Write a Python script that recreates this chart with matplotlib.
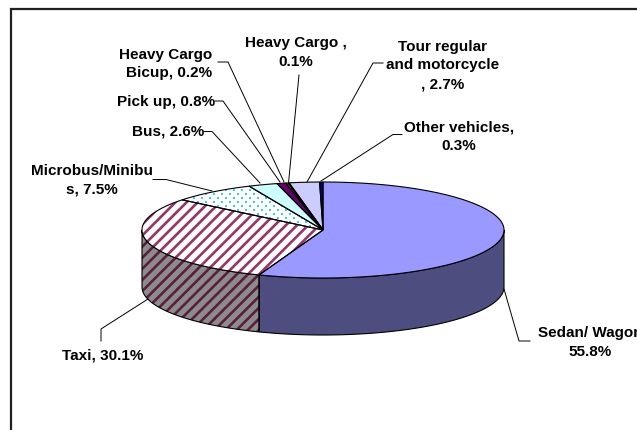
import numpy as np
import matplotlib
matplotlib.use("Agg")
import matplotlib.pyplot as plt
from matplotlib.patches import Polygon

plt.rcParams['font.family'] = ['Liberation Sans', 'DejaVu Sans']
plt.rcParams['hatch.linewidth'] = 1.9

# ---- data ----
categories = ["Sedan/ Wagon", "Taxi", "Microbus/Minibus", "Bus", "Pick up",
              "Heavy Cargo Bicup", "Heavy Cargo", "Tour regular and motorcycle",
              "Other vehicles"]
values = [55.8, 30.1, 7.5, 2.6, 0.8, 0.2, 0.1, 2.7, 0.3]
labels = ["Sedan/ Wagon\n55.8%", "Taxi, 30.1%", "Microbus/Minibu\ns, 7.5%",
          "Bus, 2.6%", "Pick up, 0.8%", "Heavy Cargo\nBicup, 0.2%",
          "Heavy Cargo ,\n0.1%", "Tour regular\nand motorcycle\n, 2.7%",
          "Other vehicles,\n0.3%"]

# ---- styles ----
top_colors = ["#9999FF", "#FFFFFF", "#FFFFFF", "#CCFFFF", "#660066",
              "#FF8080", "#FF8080", "#CCCCFF", "#000080"]
side_colors = ["#4D4D80", "#8C8C8C", "#808080", "#668080", "#330033",
               "#804040", "#804040", "#666680", "#000040"]
top_hatch = [None, "///", None, None, None, None, None, None, None]
top_hatch_col = [None, "#993366", None, None, None, None, None, None, None]
side_hatch_col = [None, "#5A1F3D", None, None, None, None, None, None, None]
dot_fill = [None, None, "#33CCFF", None, None, None, None, None, None]

cx, cy, a, b, depth = 323.0, 231.0, 181.0, 48.0, 57.0

fig = plt.figure(figsize=(6.37, 4.31), dpi=100)
ax = fig.add_axes([0, 0, 1, 1])
ax.set_xlim(0, 637)
ax.set_ylim(431, 0)
ax.axis("off")

def pt(theta_deg, dy=0.0):
    t = np.radians(theta_deg)
    return cx + a * np.sin(t), cy - b * np.cos(t) + dy

def draw_poly(pts, face, hatch, hcol, z, dots=None):
    base = Polygon(pts, closed=True, facecolor=face, edgecolor="none",
                   lw=0, zorder=z)
    ax.add_patch(base)
    if hatch:
        ax.add_patch(Polygon(pts, closed=True, facecolor="none", edgecolor=hcol,
                             hatch=hatch, lw=0, zorder=z + 0.1))
    if dots:
        arr = np.array(pts)
        x0, x1 = arr[:, 0].min(), arr[:, 0].max()
        y0, y1 = arr[:, 1].min(), arr[:, 1].max()
        gx, gy = [], []
        row = 0
        for yy in np.arange(y0 - 8, y1 + 8, 4.0):
            off = 4.0 if row % 2 else 0.0
            for xx in np.arange(x0 - 8 + off, x1 + 8, 8.0):
                gx.append(xx)
                gy.append(yy)
            row += 1
        sc = ax.scatter(gx, gy, s=3.5, color=dots, marker="s", linewidths=0,
                        zorder=z + 0.1)
        sc.set_clip_path(base)
    ax.add_patch(Polygon(pts, closed=True, facecolor="none", edgecolor="black",
                         lw=0.8, zorder=z + 0.2))

total = sum(values)
bounds = np.concatenate([[0], np.cumsum(values) / total * 360.0])

# sides (visible front half: 90..270 deg clockwise from top)
for i in range(len(values)):
    t1, t2 = bounds[i], bounds[i + 1]
    s1, s2 = max(t1, 90.0), min(t2, 270.0)
    if s2 <= s1:
        continue
    th = np.linspace(s1, s2, 80)
    top = [pt(t) for t in th]
    bot = [pt(t, depth) for t in th[::-1]]
    draw_poly(top + bot, side_colors[i], top_hatch[i], side_hatch_col[i], 2)

# tops
for i in range(len(values)):
    t1, t2 = bounds[i], bounds[i + 1]
    th = np.linspace(t1, t2, max(4, int((t2 - t1) * 2)))
    pts = [(cx, cy)] + [pt(t) for t in th]
    draw_poly(pts, top_colors[i], top_hatch[i], top_hatch_col[i], 4,
              dots=dot_fill[i])

# labels: (x, y, ha)
label_pos = [(590, 342.5, "center"), (102.5, 356, "center"), (92, 180, "center"),
             (168.5, 132, "center"), (166, 102, "center"), (212, 64, "right"),
             (296, 52.5, "center"), (443, 65.5, "center"), (459, 136.5, "center")]
leaders = [
    [(530, 342), (519, 342), (504, 290)],
    [(101, 342), (101, 330), (148, 300)],
    [(153, 180.5), (166, 180.5), (212, 192)],
    [(204, 132.5), (212, 132.5), (260, 184)],
    [(215, 102), (223, 102), (280, 183)],
    [(218, 63), (228, 63), (284, 183)],
    [(299, 76), (288.6, 183)],
    [(383, 64), (373, 64), (307, 183)],
    [(402, 135.5), (393, 135.5), (321, 182)],
]
for (x, y, ha), txt, ld in zip(label_pos, labels, leaders):
    ax.text(x, y, txt, ha=ha, va="center", multialignment=ha,
            fontsize=11, fontweight="bold", linespacing=1.45, zorder=10)
    xs, ys = zip(*ld)
    ax.plot(xs, ys, color="black", lw=0.7, zorder=6)

# chart border (extends beyond the visible area)
ax.plot([11, 11, 700], [470, 9.5, 9.5], color="#202020", lw=1.6, zorder=12,
        solid_joinstyle="miter")

fig.savefig("out.png", dpi=100)
